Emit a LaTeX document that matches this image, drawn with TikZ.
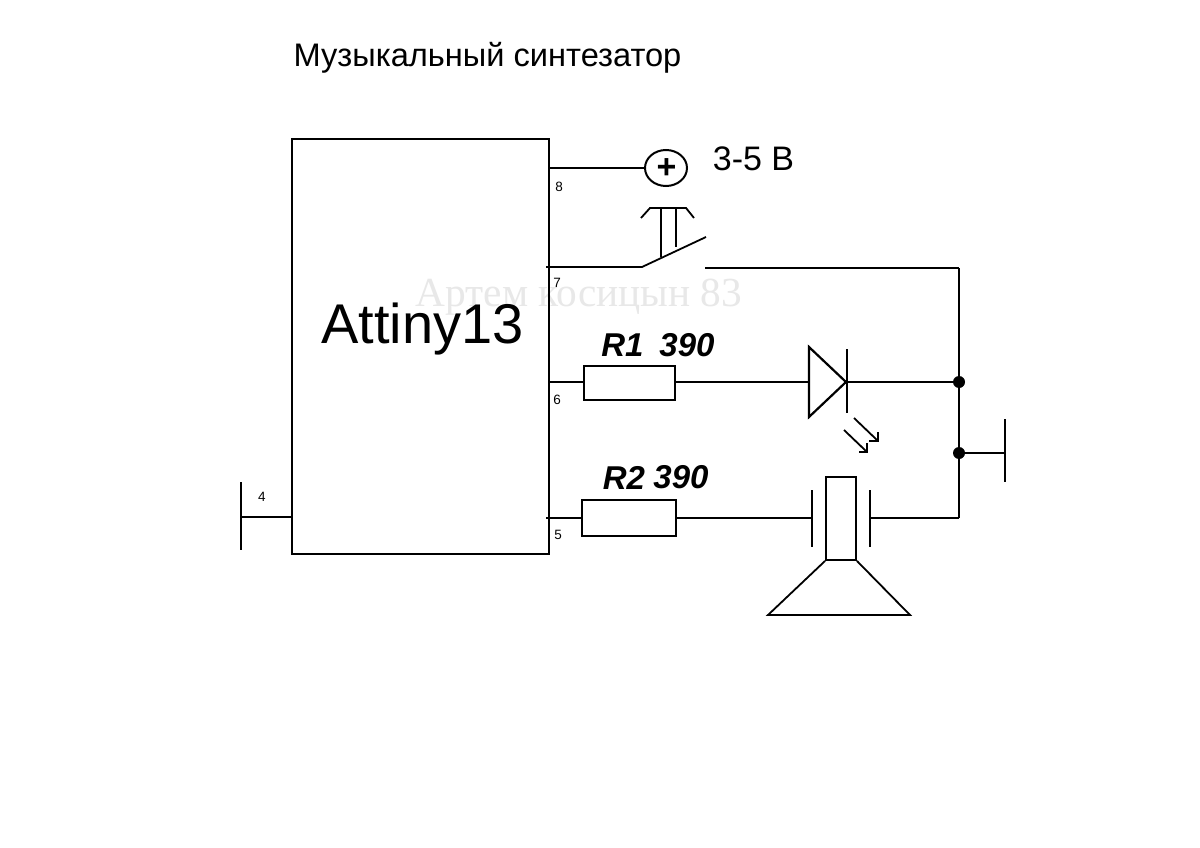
\documentclass[tikz,border=0pt]{standalone}
\usepackage{fontspec}
\setmainfont{Liberation Sans}
\newfontfamily\markfont{Liberation Serif}
\usetikzlibrary{shapes, positioning}
\tikzstyle{wire} = [draw=black, line width=2.2pt, line join=miter]
\tikzstyle{thinwire} = [draw=black, line width=1.8pt]
\tikzstyle{chipbox} = [draw=black, line width=2.2pt, rectangle, minimum width=257pt, minimum height=415pt, inner sep=0pt]
\tikzstyle{resistor} = [draw=black, line width=2.2pt, fill=white, rectangle, inner sep=0pt]
\tikzstyle{pinlabel} = [font=\fontsize{13.5}{13.5}\selectfont, inner sep=0pt]
\tikzstyle{reslabel} = [font=\fontsize{33}{33}\selectfont\bfseries\itshape, inner sep=0pt]
\tikzstyle{junction} = [circle, fill=black, minimum size=12pt, inner sep=0pt]

\begin{document}
\begin{tikzpicture}[x=1pt, y=-1pt]
	\useasboundingbox (0,0) rectangle (1200,848);
	\fill[white] (0,0) rectangle (1200,848);
	% watermark and title
	\node [font=\markfont\fontsize{41.3}{41.3}\selectfont, text=black!9, inner sep=0pt] (mark) at (579,297) {Артем косицын 83};
	\node [font=\fontsize{32.6}{32.6}\selectfont, inner sep=0pt] (title) at (487.5,58) {Музыкальный синтезатор};
	% chip
	\node [chipbox] (chip) at (420.5,346.5) {};
	\node [font=\fontsize{56}{56}\selectfont, inner sep=0pt] (chipname) at (422.5,329) {Attiny13};
	\node [pinlabel] (lab8) at (559,187) {8};
	\node [pinlabel] (lab7) at (557,283) {7};
	\node [pinlabel] (lab6) at (557,400) {6};
	\node [pinlabel] (lab5) at (558,535) {5};
	\node [pinlabel] (lab4) at (262,497) {4};
	% supply
	\coordinate (pin8) at (549,168);
	\node [draw=black, line width=2pt, ellipse, minimum width=42pt, minimum height=36pt, inner sep=0pt] (plus) at (666,168) {};
	\node [font=\fontsize{34}{34}\selectfont\bfseries, inner sep=0pt] (plussign) at (666.5,169) {+};
	\node [font=\fontsize{34}{34}\selectfont, inner sep=0pt] (volts) at (753.5,159) {3-5 В};
	\draw [wire] (pin8) -- (plus);
	% switch
	\coordinate (pin7) at (546,267);
	\coordinate (swa) at (642,267);
	\coordinate (swb) at (706,237);
	\coordinate (swc) at (705,268);
	\coordinate (rail) at (959,268);
	\coordinate (btna) at (661,208);
	\coordinate (btnb) at (661,257);
	\coordinate (btnc) at (676,208);
	\coordinate (btnd) at (676,247);
	\coordinate (capa) at (641,218);
	\coordinate (capb) at (650,208);
	\coordinate (capc) at (686,208);
	\coordinate (capd) at (694,218);
	\draw [thinwire] (pin7) -- (swa) -- (swb);
	\draw [wire] (swc) -- (rail);
	\draw [thinwire] (btna) -- (btnb);
	\draw [thinwire] (btnc) -- (btnd);
	\draw [thinwire] (capa) -- (capb) -- (capc) -- (capd);
	% resistors
	\coordinate (pin6) at (549,382);
	\coordinate (pin5) at (546,518);
	\node [resistor, minimum width=91pt, minimum height=34pt] (r1) at (629.5,383) {};
	\node [resistor, minimum width=94pt, minimum height=36pt] (r2) at (629,518) {};
	\node [reslabel] (r1name) at (622.5,345) {R1};
	\node [reslabel] (r1val) at (687,345) {390};
	\node [reslabel] (r2name) at (624,478) {R2};
	\node [reslabel] (r2val) at (681,477) {390};
	\draw [thinwire] (pin6) -- (r1.west |- pin6);
	\draw [thinwire] (pin5) -- (r2);
	% led
	\coordinate (leda) at (809,347);
	\coordinate (ledb) at (809,417);
	\coordinate (ledc) at (846,382);
	\coordinate (leddl) at (809,382);
	\coordinate (bartop) at (847,349);
	\coordinate (barbot) at (847,413);
	\node [junction] (joina) at (959,382) {};
	\node [junction] (joinb) at (959,453) {};
	\draw [thinwire] (r1.east |- leddl) -- (leddl);
	\draw [wire] (leda) -- (ledc) -- (ledb) -- cycle;
	\draw [thinwire] (bartop) -- (barbot);
	\draw [wire] (ledc) -- (joina);
	\coordinate (raya) at (854,418);
	\coordinate (rayb) at (878,441);
	\coordinate (rayc) at (878,432);
	\coordinate (rayd) at (869,441);
	\coordinate (raye) at (844,430);
	\coordinate (rayf) at (867,452);
	\coordinate (rayg) at (867,443);
	\coordinate (rayh) at (859,452);
	\draw [thinwire] (raya) -- (rayb);
	\draw [thinwire] (rayc) -- (rayb) -- (rayd);
	\draw [thinwire] (raye) -- (rayf);
	\draw [thinwire] (rayg) -- (rayf) -- (rayh);
	% ground
	\coordinate (gndbar) at (1005,453);
	\coordinate (gndtop) at (1005,419);
	\coordinate (gndbot) at (1005,482);
	\coordinate (corner) at (959,518);
	\draw [wire] (rail) -- (joina);
	\draw [thinwire] (joina) -- (corner);
	\draw [thinwire] (joinb) -- (gndbar);
	\draw [thinwire] (gndtop) -- (gndbot);
	\coordinate (gndl) at (241,517);
	\coordinate (gndltop) at (241,482);
	\coordinate (gndlbot) at (241,550);
	\draw [thinwire] (gndl) -- (chip.west |- gndl);
	\draw [thinwire] (gndltop) -- (gndlbot);
	% speaker
	\coordinate (platel) at (812,518);
	\coordinate (plater) at (870,518);
	\coordinate (platela) at (812,490);
	\coordinate (platelb) at (812,547);
	\coordinate (platera) at (870,490);
	\coordinate (platerb) at (870,547);
	\node [draw=black, line width=1.8pt, rectangle, minimum width=30pt, minimum height=83pt, inner sep=0pt] (coil) at (841,518.5) {};
	\coordinate (conea) at (768,615);
	\coordinate (coneb) at (910,615);
	\draw [thinwire] (r2) -- (platel);
	\draw [wire] (platela) -- (platelb);
	\draw [wire] (platera) -- (platerb);
	\draw [thinwire] (plater) -- (corner);
	\draw [thinwire] (coil.south west) -- (conea) -- (coneb) -- (coil.south east);
\end{tikzpicture}
\end{document}
